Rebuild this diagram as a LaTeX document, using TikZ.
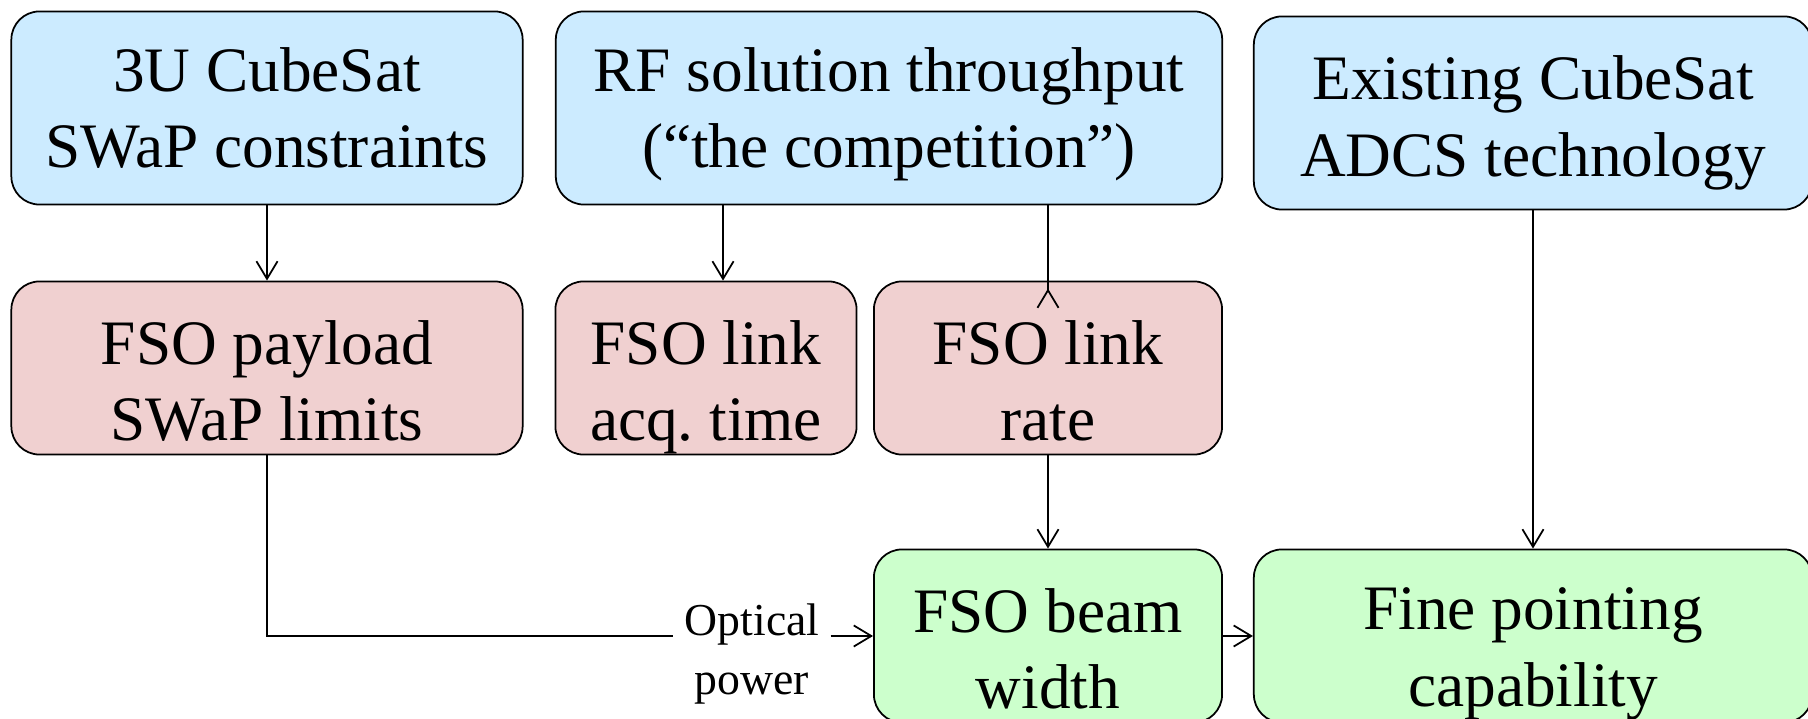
\documentclass[tikz,border=0pt]{standalone}
\usepackage{fontspec}
\setmainfont{Liberation Serif}
\usetikzlibrary{positioning, arrows.meta}
\definecolor{drvblue}{RGB}{204,235,255}
\definecolor{limpink}{RGB}{240,208,208}
\definecolor{capgreen}{RGB}{204,255,204}

\begin{document}
\begin{tikzpicture}[>={Straight Barb[length=5pt, width=6pt]}, x=0.01cm, y=-0.01cm, line width=0.5pt,
  box/.style={draw, rounded corners=8pt, align=center, inner sep=0pt, text depth=0pt,
    font=\fontsize{18}{21.8}\selectfont},
  drvbox/.style={box, fill=drvblue, minimum height=1.93cm, text height=34pt},
  limbox/.style={box, fill=limpink, minimum height=1.73cm, text height=41.5pt},
  capbox/.style={box, fill=capgreen, minimum height=1.73cm, text height=41.5pt}]
  \useasboundingbox (0,0) rectangle (1808,719);
  % top row: drivers
  \node[drvbox, minimum width=5.11cm] (cube) at (267,108) {3U CubeSat\\SWaP constraints};
  \node[drvbox, minimum width=6.66cm] (rf) at (889,108) {RF solution throughput\\(``the competition'')};
  \node[drvbox, minimum width=5.58cm, text height=36pt] (adcs) at (1533,113) {Existing CubeSat\\ADCS technology};
  % middle row: FSO limits
  \node[limbox, minimum width=5.11cm] (swap) at (267,368) {FSO payload\\SWaP limits};
  \node[limbox, minimum width=3.01cm] (acq) at (706,368) {FSO link\\acq.\ time};
  \node[limbox, minimum width=3.48cm] (rate) at (1048,368) {FSO link\\rate};
  % bottom row: capabilities
  \node[capbox, minimum width=3.48cm] (beam) at (1048,636) {FSO beam\\width};
  \node[capbox, minimum width=5.58cm, text height=40pt] (fine) at (1533,636) {Fine pointing\\capability};
  \node[font=\fontsize{13}{16.8}\selectfont, align=center, inner xsep=3pt] (pow) at (752,654) {Optical\\power};
  % connectors
  \draw[->] (cube) -- (swap);
  \draw[->] ([xshift=0.17cm]acq.north |- rf.south) -- ([xshift=0.17cm]acq.north);
  \draw[-{Straight Barb[reversed, length=5pt, width=6pt]}, shorten >=-8pt] (rf.south -| rate.north) -- (rate.north);
  \draw[->] (rate) -- (beam);
  \draw[->] (adcs) -- (fine);
  \draw (swap) |- (pow.west |- beam);
  \draw[->] (pow.east |- beam) -- (beam);
  \draw[->] (beam) -- (fine);
\end{tikzpicture}
\end{document}
